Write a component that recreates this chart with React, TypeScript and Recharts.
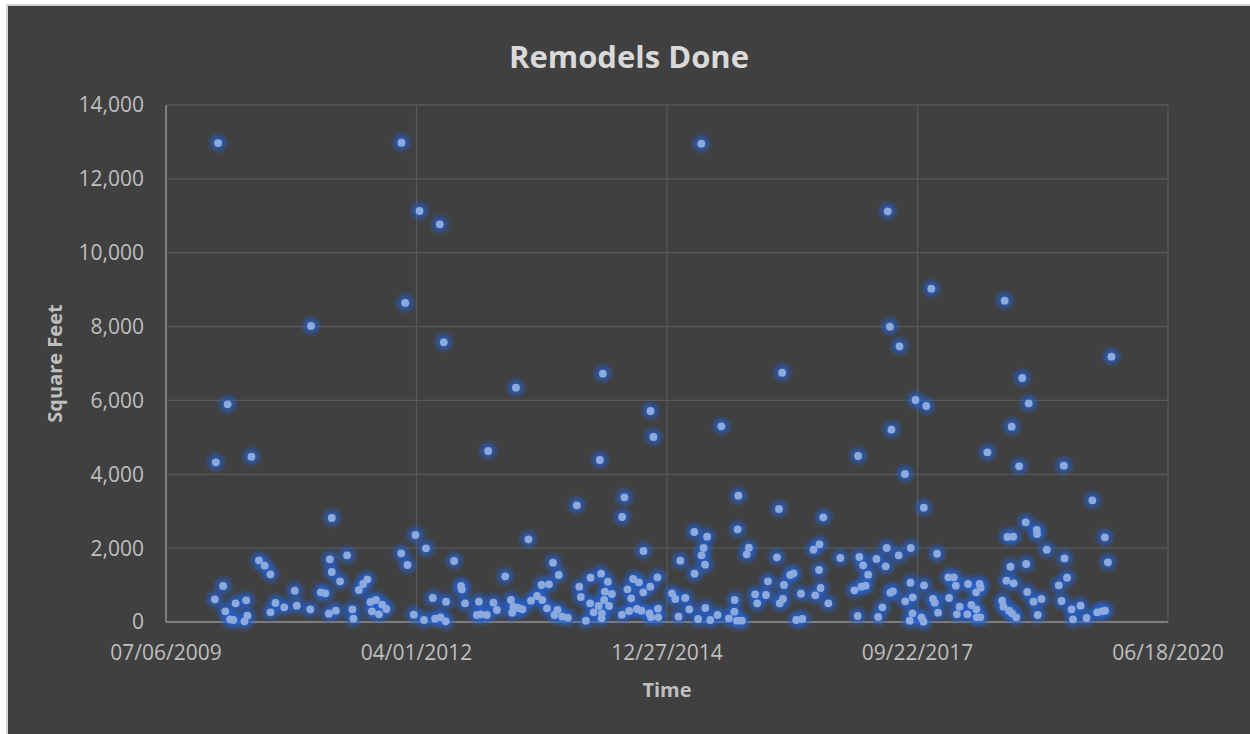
import React from 'react';
import { ScatterChart, Scatter, XAxis, YAxis, CartesianGrid, Label } from 'recharts';

// dates are Excel serial day numbers (40000 = 07/06/2009)
const dateSerials = [
  40195, 40199, 40208, 40228, 40237, 40246, 40256, 40269, 40278, 40313,
  40320, 40325, 40341, 40371, 40394, 40417, 40417, 40437, 40472, 40514,
  40522, 40576, 40579, 40618, 40636, 40650, 40654, 40662, 40662, 40678,
  40695, 40723, 40744, 40748, 40770, 40787, 40804, 40816, 40822, 40838,
  40850, 40863, 40880, 40939, 40940, 40955, 40964, 40989, 40996, 41012,
  41030, 41038, 41065, 41074, 41093, 41096, 41109, 41117, 41118, 41150,
  41178, 41181, 41194, 41241, 41249, 41257, 41281, 41286, 41307, 41321,
  41354, 41377, 41382, 41387, 41397, 41407, 41423, 41447, 41457, 41481,
  41499, 41502, 41521, 41529, 41545, 41551, 41563, 41568, 41582, 41604,
  41640, 41650, 41656, 41676, 41693, 41695, 41707, 41727, 41732, 41737,
  41739, 41740, 41744, 41749, 41752, 41764, 41769, 41780, 41820, 41821,
  41830, 41842, 41849, 41857, 41865, 41880, 41888, 41898, 41905, 41906,
  41930, 41933, 41934, 41936, 41946, 41962, 41964, 41965, 42020, 42033,
  42046, 42053, 42073, 42089, 42109, 42110, 42124, 42137, 42138, 42146,
  42152, 42153, 42160, 42173, 42202, 42217, 42247, 42269, 42270, 42279,
  42282, 42285, 42299, 42318, 42327, 42352, 42360, 42395, 42403, 42439,
  42447, 42450, 42460, 42463, 42467, 42492, 42505, 42516, 42535, 42540,
  42592, 42607, 42609, 42585, 42613, 42624, 42644, 42692, 42748, 42761,
  42763, 42768, 42776, 42783, 42793, 42803, 42836, 42843, 42860, 42873,
  42877, 42881, 42892, 42890, 42896, 42902, 42925, 42928, 42950, 42951,
  42969, 42972, 42973, 42980, 42981, 42992, 43016, 43025, 43024, 43026,
  43035, 43055, 43062, 43069, 43078, 43082, 43123, 43126, 43145, 43153,
  43157, 43168, 43199, 43202, 43215, 43234, 43235, 43236, 43248, 43251,
  43252, 43279, 43338, 43343, 43348, 43355, 43359, 43366, 43371, 43376,
  43377, 43382, 43384, 43394, 43406, 43418, 43432, 43434, 43438, 43444,
  43463, 43476, 43477, 43480, 43495, 43516, 43564, 43575, 43584, 43587,
  43597, 43615, 43621, 43651, 43675, 43698, 43717, 43736, 43748, 43749,
  43760, 43774,
];

const squareFeet = [
  615, 4325, 12970, 975, 290, 5895, 73, 54, 506, 19,
  588, 171, 4476, 1671, 1525, 1292, 263, 515, 398, 848,
  441, 344, 8016, 804, 777, 225, 1698, 2816, 1354, 306,
  1102, 1806, 344, 89, 867, 1029, 1156, 542, 290, 596,
  208, 469, 352, 1860, 12980, 8639, 1544, 198, 2356, 11130,
  54, 1996, 650, 89, 10770, 127, 7574, 19, 550, 1652,
  975, 886, 506, 190, 550, 208, 190, 4631, 523, 325,
  1238, 596, 252, 414, 6345, 379, 344, 2240, 577, 704,
  1002, 596, 371, 1021, 1606, 190, 325, 1273, 144, 116,
  3160, 956, 677, 35, 506, 1200, 263, 433, 4387, 1308,
  100, 236, 6724, 596, 821, 1091, 433, 758, 198, 2843,
  3377, 886, 298, 642, 1164, 352, 1075, 306, 804, 1923,
  236, 956, 5714, 127, 5010, 1210, 360, 127, 777, 623,
  144, 1660, 650, 344, 2437, 1308, 81, 12952, 1806, 2004,
  1552, 379, 2310, 54, 190, 5300, 100, 279, 596, 35,
  2510, 3420, 35, 1833, 2012, 750, 506, 731, 1102, 1752,
  3060, 506, 6751, 623, 1002, 1273, 1319, 54, 767, 81,
  723, 1408, 2104, 1958, 921, 2835, 506, 1733, 858, 162,
  4495, 1760, 956, 1535, 983, 1281, 1706, 135, 398, 1508,
  2004, 11122, 794, 7997, 5208, 831, 1806, 7466, 4008, 560,
  35, 1064, 2004, 236, 669, 6012, 127, 3095, 8, 994,
  5849, 9026, 623, 523, 1850, 252, 1210, 650, 1210, 983,
  208, 414, 208, 1029, 460, 804, 344, 127, 1029, 127,
  929, 4595, 577, 414, 8701, 1118, 2302, 306, 1498, 5289,
  236, 2310, 1048, 127, 4216, 6608, 2700, 1571, 812, 5922,
  550, 2491, 2383, 190, 623, 1958, 994, 569, 4232, 1725,
  1200, 344, 73, 441, 108, 3296, 263, 290, 2294, 306,
  1617, 7185,
];

const xTicks = [40000, 41000, 42000, 43000, 44000];
const yTicks = [0, 2000, 4000, 6000, 8000, 10000, 12000, 14000];

const data = dateSerials.map((d, i) => ({ date: d, sqft: squareFeet[i] }));

const formatSerial = (serial: number) => {
  const dt = new Date(Date.UTC(1899, 11, 30) + serial * 86400000);
  const mm = String(dt.getUTCMonth() + 1).padStart(2, '0');
  const dd = String(dt.getUTCDate()).padStart(2, '0');
  return `${mm}/${dd}/${dt.getUTCFullYear()}`;
};

const FONT = "'Open Sans', sans-serif";

const GlowDot = (props: any) => {
  const { cx, cy } = props;
  return <circle cx={cx} cy={cy} r={12} fill="url(#dotGlow)" />;
};

const Dot = (props: any) => {
  const { cx, cy } = props;
  return <circle cx={cx} cy={cy} r={3.9} fill="#8eaadc" />;
};

const App: React.FC = () => {
  return (
    <div
      style={{
        position: 'absolute',
        left: 6,
        top: 4,
        width: 1242,
        height: 728,
        background: '#404040',
        borderLeft: '2px solid #d4d4d4',
        borderTop: '2px solid #d4d4d4',
        fontFamily: FONT,
      }}
    >
      <div
        style={{
          position: 'absolute',
          left: 0,
          top: 35,
          width: '100%',
          textAlign: 'center',
          fontSize: 31,
          lineHeight: '31px',
          fontWeight: 700,
          color: '#d9d9d9',
        }}
      >
        Remodels Done
      </div>
      <ScatterChart width={1242} height={728} margin={{ top: 99, right: 82, bottom: 0, left: 0 }}>
        <defs>
          <radialGradient id="dotGlow">
            <stop offset="0%" stopColor="#2262d8" stopOpacity={0.95} />
            <stop offset="40%" stopColor="#2262d8" stopOpacity={0.6} />
            <stop offset="75%" stopColor="#2262d8" stopOpacity={0.2} />
            <stop offset="100%" stopColor="#2262d8" stopOpacity={0} />
          </radialGradient>
        </defs>
        <CartesianGrid stroke="#595959" strokeWidth={1.3} />
        <XAxis
          type="number"
          dataKey="date"
          domain={[40000, 44000]}
          ticks={xTicks}
          tickFormatter={formatSerial}
          height={112}
          axisLine={{ stroke: '#7f7f7f', strokeWidth: 2 }}
          tickLine={false}
          tickMargin={17}
          tick={{ fontSize: 21, fill: '#bfbfbf', fontFamily: FONT }}
        >
          <Label
            value="Time"
            position="insideBottom"
            offset={37}
            style={{ fontSize: 20, fontWeight: 700, fill: '#bfbfbf', fontFamily: FONT }}
          />
        </XAxis>
        <YAxis
          type="number"
          dataKey="sqft"
          domain={[0, 14000]}
          ticks={yTicks}
          width={158}
          axisLine={{ stroke: '#7f7f7f', strokeWidth: 2 }}
          tickLine={false}
          tickMargin={16}
          tickFormatter={(v: number) => v.toLocaleString('en-US')}
          tick={{ fontSize: 21, fill: '#bfbfbf', fontFamily: FONT }}
        >
          <Label
            content={({ viewBox }: any) => {
              const cx = viewBox.x + 46;
              const cy = viewBox.y + viewBox.height / 2;
              return (
                <text
                  x={cx}
                  y={cy}
                  transform={`rotate(-90 ${cx} ${cy})`}
                  textAnchor="middle"
                  dominantBaseline="central"
                  style={{ fontSize: 20, fontWeight: 700, fill: '#bfbfbf', fontFamily: FONT }}
                >
                  Square Feet
                </text>
              );
            }}
          />
        </YAxis>
        <Scatter data={data} shape={GlowDot} isAnimationActive={false} />
        <Scatter data={data} shape={Dot} isAnimationActive={false} />
      </ScatterChart>
    </div>
  );
};

export default App;
